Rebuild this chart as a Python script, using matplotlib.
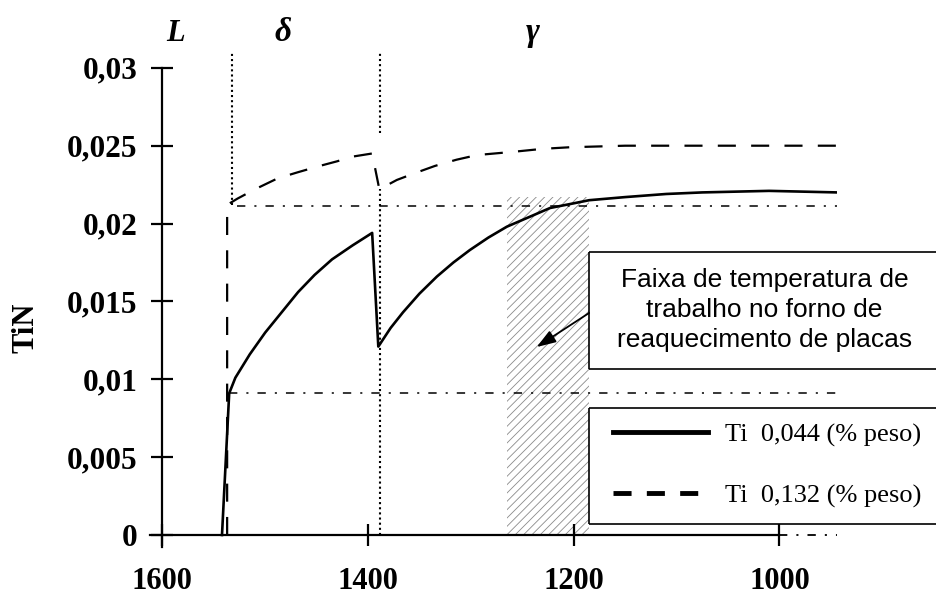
import matplotlib
matplotlib.use('Agg')
import matplotlib.pyplot as plt


# temperatura (C) e TiN (% peso)
temp_044 = [1542, 1535, 1529, 1515, 1500, 1484, 1468, 1452, 1435, 1415, 1396,
            1390, 1378, 1366, 1350, 1333, 1317, 1301, 1283, 1265, 1244, 1223,
            1200, 1185, 1150, 1110, 1075, 1010, 944]
tin_044 = [0, 0.0091, 0.0101, 0.0116, 0.0130, 0.0143, 0.0156, 0.0167, 0.0177,
           0.0186, 0.0194, 0.0121, 0.0133, 0.0143, 0.0155, 0.0166, 0.0175,
           0.0183, 0.0191, 0.0198, 0.0204, 0.0210, 0.0213, 0.0215, 0.0217,
           0.0219, 0.0220, 0.0221, 0.0220]

temp_132 = [1537, 1537, 1527, 1510, 1488, 1468, 1447, 1430, 1415, 1396, 1389,
            1372, 1356, 1335, 1314, 1294, 1260, 1230, 1204, 1150, 1107, 944]
tin_132 = [0, 0.0212, 0.0216, 0.0222, 0.0229, 0.0233, 0.0237, 0.0240, 0.0243,
           0.0245, 0.0222, 0.0228, 0.0232, 0.0237, 0.0241, 0.0244, 0.0246,
           0.0248, 0.0249, 0.0250, 0.0250, 0.0250]

labels = ['Ti  0,044 (% peso)', 'Ti  0,132 (% peso)']

# limites de fase e niveis de referencia
phase_temps = [1532, 1388]
phase_names = ['L', 'δ', 'γ']
phase_name_x = [1587, 1483, 1240]
ref_levels = [0.0211, 0.0091]
ref_start = [1527, 1535]
work_range = [1265, 1185]
work_top = 0.0217

x_ticks = [1600, 1400, 1200, 1000]
y_ticks = [0, 0.005, 0.01, 0.015, 0.02, 0.025, 0.03]
y_tick_labels = ['0', '0,005', '0,01', '0,015', '0,02', '0,025', '0,03']

box_text = 'Faixa de temperatura de\ntrabalho no forno de\nreaquecimento de placas'

plt.rcParams['lines.scale_dashes'] = False
plt.rcParams['hatch.linewidth'] = 0.6
serif = 'Liberation Serif'
sans = 'Liberation Sans'


def open_box(ax, x0, y0, y1, x1=846.5):
    # caixa aberta a direita (continua ate a borda da figura)
    ax.hlines([y0, y1], x0, x1, color='black', lw=1.2, zorder=5, clip_on=False)
    ax.vlines(x0, y0, y1, color='black', lw=1.2, zorder=5, clip_on=False)


fig = plt.figure(figsize=(9.37, 5.98), dpi=100)
ax = fig.add_axes([150 / 937, 51 / 598, 687 / 937, 498 / 598])
ax.set_xlim(1612, 944)
ax.set_ylim(-0.00077, 0.03121)

# faixa de trabalho (hachurada)
ax.fill_between(work_range, 0, work_top, facecolor='white', edgecolor='#8a8a8a',
                hatch='////', linewidth=0, zorder=1)

# linhas de fase
dots = (0, (1.5, 2.2))
ax.plot([phase_temps[0]] * 2, [0.0212, 0.031], color='black', lw=1.5,
        linestyle=dots, zorder=2)
ax.plot([phase_temps[1]] * 2, [0.0258, 0.031], color='black', lw=1.5,
        linestyle=dots, zorder=2)
ax.plot([phase_temps[1]] * 2, [0, 0.0222], color='black', lw=1.5,
        linestyle=dots, zorder=2)

# niveis de referencia (traco-ponto)
dashdot = (0, (6, 6.5, 1.5, 6.5))
for lvl, start in zip(ref_levels, ref_start):
    ax.plot([start, 944], [lvl, lvl], color='black', lw=1.1,
            linestyle=dashdot, zorder=2)
ax.plot([1000, 944], [0, 0], color='black', lw=1.3, linestyle=dashdot, zorder=2)

line1, = ax.plot(temp_044, tin_044, color='black', lw=1.9, zorder=3)
line2, = ax.plot(temp_132, tin_132, color='black', lw=1.6,
                 linestyle=(0, (13, 11)), zorder=3)

for name, x in zip(phase_names, phase_name_x):
    ax.text(x, 0.0317, name, fontsize=22 if name == 'L' else 24, family=serif,
            style='italic', weight='bold', ha='center', va='baseline',
            clip_on=False)

# eixos
for s in ['top', 'right']:
    ax.spines[s].set_visible(False)
ax.spines['left'].set_position(('data', 1600))
ax.spines['left'].set_bounds(-0.00077, 0.03)
ax.spines['bottom'].set_position(('data', 0))
ax.spines['bottom'].set_bounds(1612, 1000)
ax.spines['left'].set_linewidth(1.6)
ax.spines['bottom'].set_linewidth(1.6)

ax.set_xticks(x_ticks)
ax.set_xticklabels([str(t) for t in x_ticks])
ax.set_yticks(y_ticks)
ax.set_yticklabels(y_tick_labels)
ax.tick_params(axis='both', direction='inout', length=16, width=1.6)
ax.tick_params(axis='x', pad=15)
ax.tick_params(axis='y', pad=10)
for lab in ax.get_xticklabels() + ax.get_yticklabels():
    lab.set_fontfamily(serif)
    lab.set_fontweight('bold')
    lab.set_fontsize(22.5)
for lab in ax.get_xticklabels():
    lab.set_fontsize(22)

fig.text(26 / 937, 1 - 328 / 598, 'TiN', rotation=90, ha='center', va='center',
         fontsize=22, family=serif, weight='bold')

# caixa de texto com seta
open_box(ax, 1185, 0.01066, 0.01818)
ax.text(1014.6, 0.01445, box_text, fontsize=19, family=sans, ha='center',
        va='center', linespacing=1.3, zorder=6, clip_on=False)
ax.annotate('', xy=(1236, 0.01207), xytext=(1185, 0.01426),
            arrowprops=dict(arrowstyle='-|>,head_length=0.58,head_width=0.2',
                            mutation_scale=20, color='black', lw=1.3,
                            shrinkA=0, shrinkB=0), zorder=6)

# legenda
open_box(ax, 1185, 0.00071, 0.00816)
leg = ax.legend([line1, line2], labels, loc='upper left',
                bbox_to_anchor=(1162, 0.0072), bbox_transform=ax.transData,
                frameon=False, borderpad=0, borderaxespad=0,
                handlelength=3.6, handletextpad=0.64, labelspacing=1.42,
                prop={'family': serif, 'size': 19})
leg.set_zorder(7)
for h in leg.get_lines():
    h.set_linewidth(3.5)

fig.savefig('out.png', dpi=100)
